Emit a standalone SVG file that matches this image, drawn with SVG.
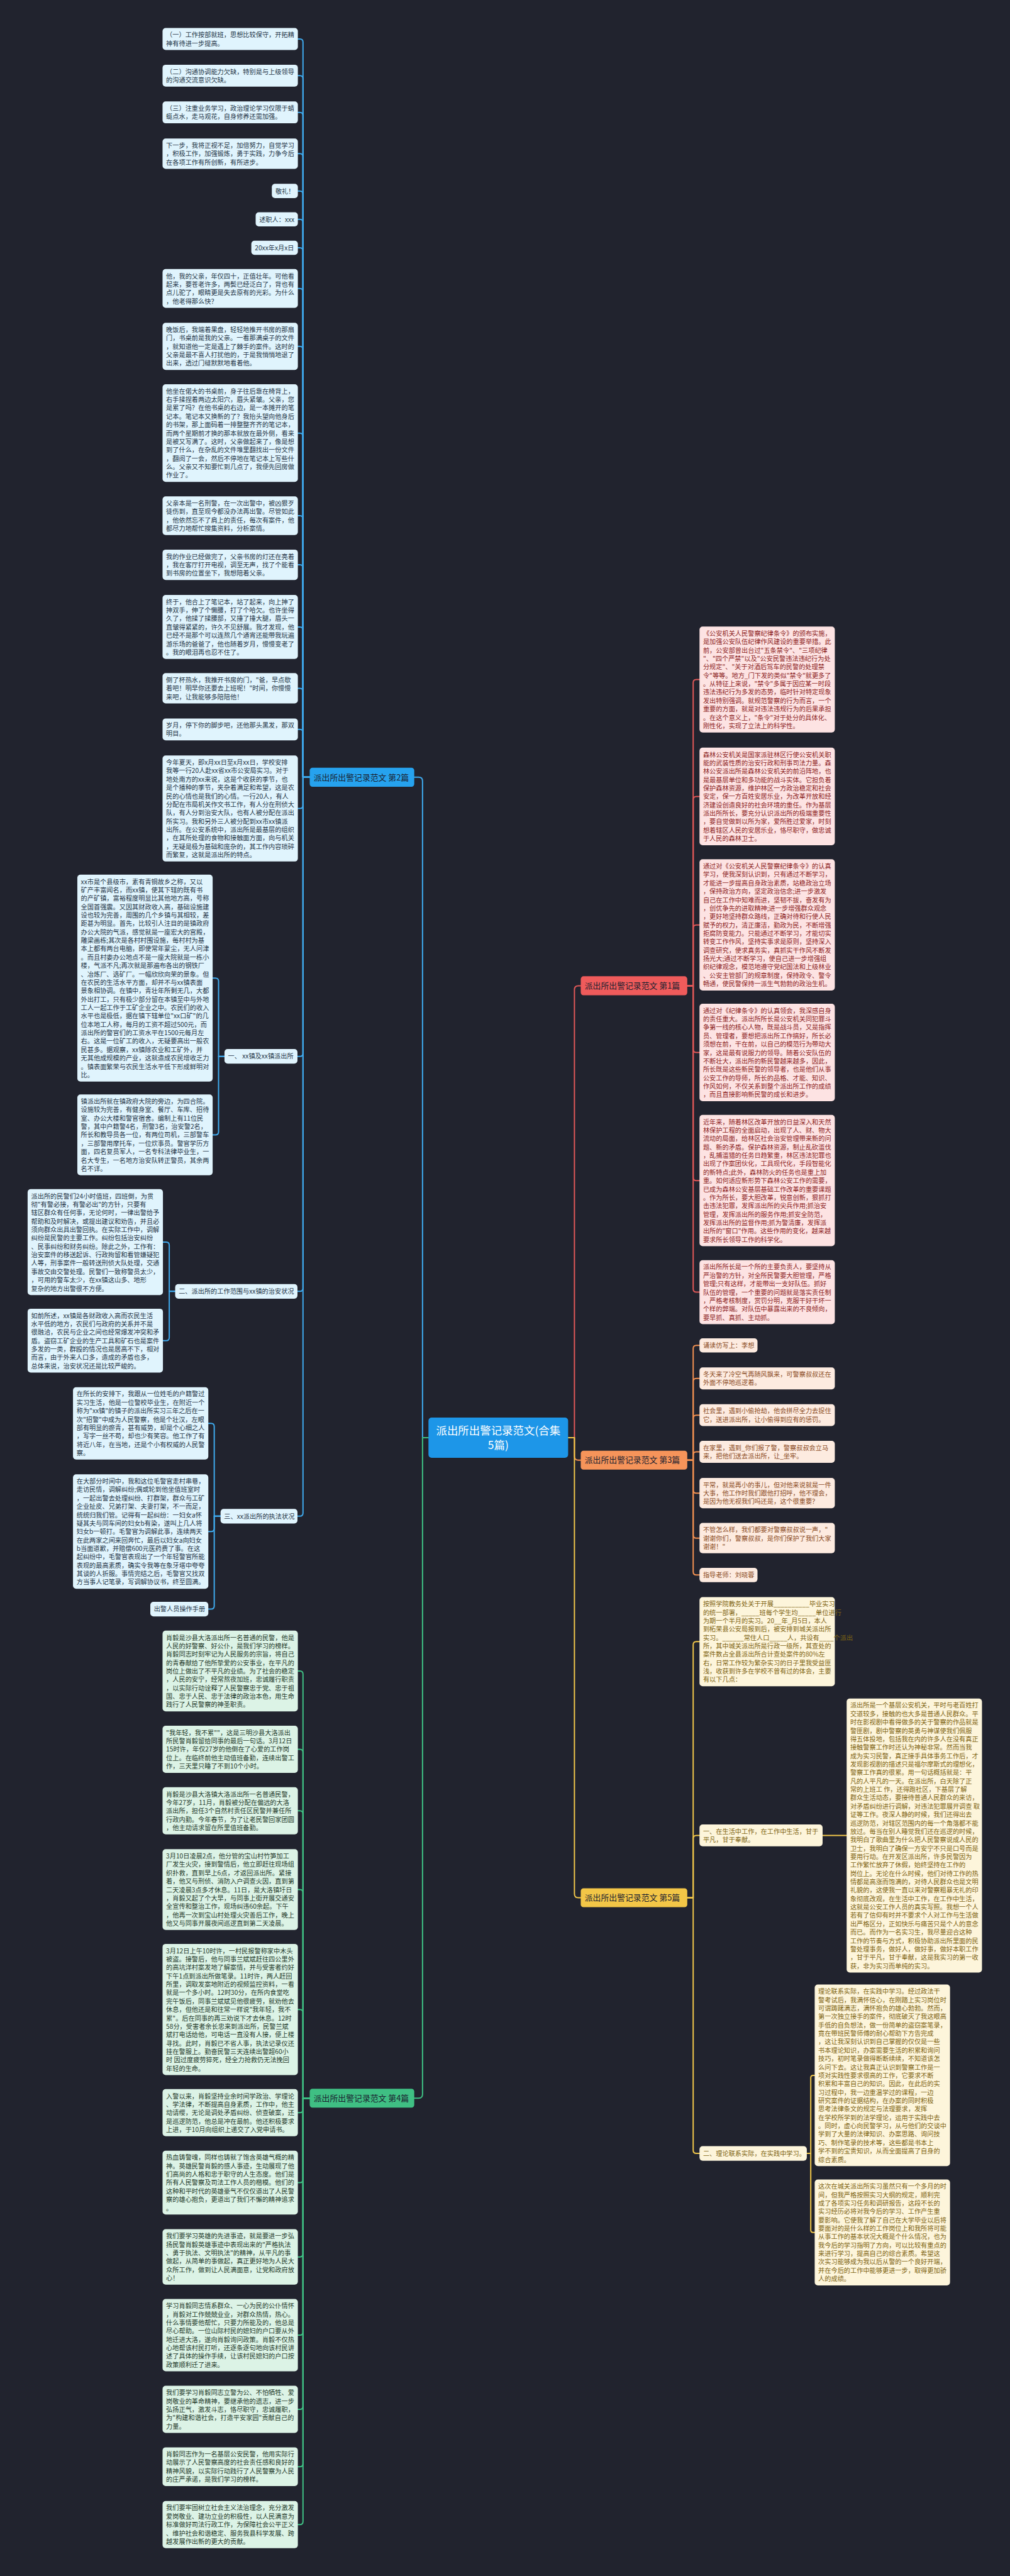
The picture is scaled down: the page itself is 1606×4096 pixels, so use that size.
<svg xmlns="http://www.w3.org/2000/svg" width="1606" height="4096" viewBox="0 0 1606 4096">
<style>
text{font-family:'Noto Sans CJK SC','Noto Sans',sans-serif;}
.t{font-size:16.25px;}
.nb rect{fill:#e0f4fd}.nb text{fill:#1f3447}
.ng rect{fill:#dcf3e6}.ng text{fill:#1f3a2b}
.nr rect{fill:#fde3e3}.nr text{fill:#8e2424}
.no rect{fill:#fdebe0}.no text{fill:#8c4b1f}
.ny rect{fill:#fdf5db}.ny text{fill:#7f6412}
.br text{font-size:20.5px;fill:#1b2230}
#conn path{fill:none;stroke-width:3.2;stroke-linecap:round;stroke-linejoin:round}
.cb{stroke:#3fa9ec}.cg{stroke:#3fbf83}.cr{stroke:#e05858}.co{stroke:#f29152}.cy{stroke:#f0c64a}
</style>
<rect width="1606" height="4096" fill="#21232e"/>
<g transform="scale(0.62734)">
<g id="conn">
<path class="cb" d="M1086 3644 H1071 V1980 Q1071 1970 1061 1970 H1050"/>
<path class="cg" d="M1086 3644 H1071 V5308 Q1071 5318 1061 5318 H1050"/>
<path class="cr" d="M1440 3644 H1456 V2508.5 Q1456 2498.5 1466 2498.5 H1472"/>
<path class="co" d="M1440 3644 H1456 V3691 Q1456 3701 1466 3701 H1472"/>
<path class="cy" d="M1440 3644 H1456 V4800 Q1456 4810 1466 4810 H1472"/>
<path class="cb" d="M785 1970 H768 V106.8 Q768 98.8 760 98.8 H755"/>
<path class="cb" d="M785 1970 H768 V199.8 Q768 191.8 760 191.8 H755"/>
<path class="cb" d="M785 1970 H768 V292.8 Q768 284.8 760 284.8 H755"/>
<path class="cb" d="M785 1970 H768 V397.5 Q768 389.5 760 389.5 H755"/>
<path class="cb" d="M785 1970 H768 V492 Q768 484 760 484 H755"/>
<path class="cb" d="M785 1970 H768 V564 Q768 556 760 556 H755"/>
<path class="cb" d="M785 1970 H768 V636 Q768 628 760 628 H755"/>
<path class="cb" d="M785 1970 H768 V739.1 Q768 731.1 760 731.1 H755"/>
<path class="cb" d="M785 1970 H768 V885.8 Q768 877.8 760 877.8 H755"/>
<path class="cb" d="M785 1970 H768 V1105.7 Q768 1097.7 760 1097.7 H755"/>
<path class="cb" d="M785 1970 H768 V1315.1 Q768 1307.1 760 1307.1 H755"/>
<path class="cb" d="M785 1970 H768 V1439.5 Q768 1431.5 760 1431.5 H755"/>
<path class="cb" d="M785 1970 H768 V1597.1 Q768 1589.1 760 1589.1 H755"/>
<path class="cb" d="M785 1970 H768 V1752.5 Q768 1744.5 760 1744.5 H755"/>
<path class="cb" d="M785 1970 H768 V1856.8 Q768 1848.8 760 1848.8 H755"/>
<path class="cb" d="M785 1970 H768 V2041.3 Q768 2049.3 760 2049.3 H755"/>
<path class="cb" d="M785 1970 H768 V2669.5 Q768 2677.5 760 2677.5 H754"/>
<path class="cb" d="M785 1970 H768 V3265 Q768 3273 760 3273 H754"/>
<path class="cb" d="M785 1970 H768 V3835 Q768 3843 760 3843 H754"/>
<path class="cb" d="M569 2677.5 H554 V2487.1 Q554 2479.1 546 2479.1 H539"/>
<path class="cb" d="M569 2677.5 H554 V2868.4 Q554 2876.4 546 2876.4 H539"/>
<path class="cb" d="M444 3273 H429 V3156.3 Q429 3148.3 421 3148.3 H413"/>
<path class="cb" d="M444 3273 H429 V3390 Q429 3398 421 3398 H413"/>
<path class="cb" d="M559 3843 H543 V3615.7 Q543 3607.7 535 3607.7 H528"/>
<path class="cb" d="M559 3843 H543 V3874 Q543 3882 535 3882 H528"/>
<path class="cb" d="M559 3843 H543 V4070.5 Q543 4078.5 535 4078.5 H528"/>
<path class="cg" d="M785 5318 H768 V4243.4 Q768 4235.4 760 4235.4 H755"/>
<path class="cg" d="M785 5318 H768 V4441.8 Q768 4433.8 760 4433.8 H755"/>
<path class="cg" d="M785 5318 H768 V4597.8 Q768 4589.8 760 4589.8 H755"/>
<path class="cg" d="M785 5318 H768 V4797.4 Q768 4789.4 760 4789.4 H755"/>
<path class="cg" d="M785 5318 H768 V5101.3 Q768 5093.3 760 5093.3 H755"/>
<path class="cg" d="M785 5318 H768 V5346.8 Q768 5354.8 760 5354.8 H755"/>
<path class="cg" d="M785 5318 H768 V5524 Q768 5532 760 5532 H755"/>
<path class="cg" d="M785 5318 H768 V5712.4 Q768 5720.4 760 5720.4 H755"/>
<path class="cg" d="M785 5318 H768 V5910.7 Q768 5918.7 760 5918.7 H755"/>
<path class="cg" d="M785 5318 H768 V6098.8 Q768 6106.8 760 6106.8 H755"/>
<path class="cg" d="M785 5318 H768 V6244.1 Q768 6252.1 760 6252.1 H755"/>
<path class="cg" d="M785 5318 H768 V6390.8 Q768 6398.8 760 6398.8 H755"/>
<path class="cr" d="M1742 2498.5 H1757 V1730.3 Q1757 1722.3 1765 1722.3 H1773"/>
<path class="cr" d="M1742 2498.5 H1757 V2026.7 Q1757 2018.7 1765 2018.7 H1773"/>
<path class="cr" d="M1742 2498.5 H1757 V2352.3 Q1757 2344.3 1765 2344.3 H1773"/>
<path class="cr" d="M1742 2498.5 H1757 V2659.7 Q1757 2667.7 1765 2667.7 H1773"/>
<path class="cr" d="M1742 2498.5 H1757 V2984.3 Q1757 2992.3 1765 2992.3 H1773"/>
<path class="cr" d="M1742 2498.5 H1757 V3267.1 Q1757 3275.1 1765 3275.1 H1773"/>
<path class="co" d="M1742 3701 H1757 V3418 Q1757 3410 1765 3410 H1773"/>
<path class="co" d="M1742 3701 H1757 V3501.8 Q1757 3493.8 1765 3493.8 H1773"/>
<path class="co" d="M1742 3701 H1757 V3594.8 Q1757 3586.8 1765 3586.8 H1773"/>
<path class="co" d="M1742 3701 H1757 V3687.8 Q1757 3679.8 1765 3679.8 H1773"/>
<path class="co" d="M1742 3701 H1757 V3776.5 Q1757 3784.5 1765 3784.5 H1773"/>
<path class="co" d="M1742 3701 H1757 V3890.5 Q1757 3898.5 1765 3898.5 H1773"/>
<path class="co" d="M1742 3701 H1757 V3984 Q1757 3992 1765 3992 H1773"/>
<path class="cy" d="M1742 4810 H1757 V4169 Q1757 4161 1765 4161 H1773"/>
<path class="cy" d="M1742 4810 H1757 V4660 Q1757 4652 1765 4652 H1773"/>
<path class="cy" d="M1742 4810 H1757 V5450 Q1757 5458 1765 5458 H1773"/>
<path class="cy" d="M2085 4652 H2146"/>
<path class="cy" d="M2045 5458 H2055 V5266.2 Q2055 5260.2 2061 5260.2 H2065"/>
<path class="cy" d="M2045 5458 H2055 V5652.3 Q2055 5658.3 2061 5658.3 H2065"/>
</g>

<g id="root"><rect x="1086" y="3593" width="354" height="102" rx="8" fill="#1d96e8"/>
<text x="1263" y="3636.5" font-size="27.8" fill="#ffffff" text-anchor="middle"><tspan x="1263">派出所出警记录范文(合集</tspan><tspan x="1263" dy="36.5">5篇)</tspan></text></g>

<g id="branch2" class="br"><rect x="785" y="1946" width="265" height="48" rx="7" fill="#26a2ee"/><text x="795" y="1977.5">派出所出警记录范文 第2篇</text></g>
<g id="branch4" class="br"><rect x="785" y="5294" width="265" height="48" rx="7" fill="#3fbf83"/><text x="795" y="5325.5">派出所出警记录范文 第4篇</text></g>
<g id="branch1" class="br"><rect x="1472" y="2474.5" width="270" height="48" rx="7" fill="#ef5b5b"/><text x="1482" y="2506">派出所出警记录范文 第1篇</text></g>
<g id="branch3" class="br"><rect x="1472" y="3677" width="270" height="48" rx="7" fill="#f6945a"/><text x="1482" y="3708.5">派出所出警记录范文 第3篇</text></g>
<g id="branch5" class="br"><rect x="1472" y="4786" width="270" height="48" rx="7" fill="#f3c647"/><text x="1482" y="4817.5">派出所出警记录范文 第5篇</text></g>

<g id="b1" class="nb"><rect x="412" y="71" width="343" height="55.6" rx="8"/><text class="t" x="421" y="94.5"><tspan x="421">（一）工作按部就班，思想比较保守，开拓精</tspan><tspan x="421" dy="21.3">神有待进一步提高。</tspan></text></g>
<g id="b2" class="nb"><rect x="412" y="164" width="343" height="55.6" rx="8"/><text class="t" x="421" y="187.5"><tspan x="421">（二）沟通协调能力欠缺，特别是与上级领导</tspan><tspan x="421" dy="21.3">的沟通交流意识欠缺。</tspan></text></g>
<g id="b3" class="nb"><rect x="412" y="257" width="343" height="55.6" rx="8"/><text class="t" x="421" y="280.5"><tspan x="421">（三）注重业务学习，政治理论学习仅限于蜻</tspan><tspan x="421" dy="21.3">蜓点水，走马观花，自身修养还需加强。</tspan></text></g>
<g id="b4" class="nb"><rect x="412" y="351" width="343" height="76.9" rx="8"/><text class="t" x="421" y="374.5"><tspan x="421">下一步，我将正视不足，加倍努力，自觉学习</tspan><tspan x="421" dy="21.3">，积极工作，加强锻炼，勇于实践，力争今后</tspan><tspan x="421" dy="21.3">在各项工作有所创新，有所进步。</tspan></text></g>
<g id="b5" class="nb"><rect x="689" y="466" width="66" height="36" rx="8"/><text class="t" x="698" y="490.5">敬礼！</text></g>
<g id="b6" class="nb"><rect x="648" y="538" width="107" height="36" rx="8"/><text class="t" x="657" y="562.5">述职人：xxx</text></g>
<g id="b7" class="nb"><rect x="637" y="610" width="118" height="36" rx="8"/><text class="t" x="646" y="634.5">20xx年x月x日</text></g>
<g id="b8" class="nb"><rect x="412" y="682" width="343" height="98.2" rx="8"/><text class="t" x="421" y="705.5"><tspan x="421">他，我的父亲，年仅四十，正值壮年。可他看</tspan><tspan x="421" dy="21.3">起来，要苍老许多，两鬓已经泛白了，背也有</tspan><tspan x="421" dy="21.3">点儿驼了，眼睛更是失去原有的光彩。为什么</tspan><tspan x="421" dy="21.3">，他老得那么快？</tspan></text></g>
<g id="b9" class="nb"><rect x="412" y="818" width="343" height="119.5" rx="8"/><text class="t" x="421" y="841.5"><tspan x="421">晚饭后，我端着果盘，轻轻地推开书房的那扇</tspan><tspan x="421" dy="21.3">门，书桌前是我的父亲。一看那满桌子的文件</tspan><tspan x="421" dy="21.3">，就知道他一定是遇上了棘手的案件。这时的</tspan><tspan x="421" dy="21.3">父亲是最不喜人打扰他的，于是我悄悄地退了</tspan><tspan x="421" dy="21.3">出来，透过门缝默默地看着他。</tspan></text></g>
<g id="b10" class="nb"><rect x="412" y="974" width="343" height="247.3" rx="8"/><text class="t" x="421" y="997.5"><tspan x="421">他坐在偌大的书桌前，身子往后靠在椅背上，</tspan><tspan x="421" dy="21.3">右手揉捏着两边太阳穴，眉头紧皱。父亲，您</tspan><tspan x="421" dy="21.3">是累了吗？在他书桌的右边，是一本摊开的笔</tspan><tspan x="421" dy="21.3">记本。笔记本又换新的了？我抬头望向他身后</tspan><tspan x="421" dy="21.3">的书架，那上面码着一排整整齐齐的笔记本，</tspan><tspan x="421" dy="21.3">而两个星期前才换的那本就放在最外侧，看来</tspan><tspan x="421" dy="21.3">是被又写满了。这时，父亲做起来了，像是想</tspan><tspan x="421" dy="21.3">到了什么，在杂乱的文件堆里翻找出一份文件</tspan><tspan x="421" dy="21.3">，翻阅了一会，然后不停地在笔记本上写些什</tspan><tspan x="421" dy="21.3">么。父亲又不知要忙到几点了，我便先回房做</tspan><tspan x="421" dy="21.3">作业了。</tspan></text></g>
<g id="b11" class="nb"><rect x="412" y="1258" width="343" height="98.2" rx="8"/><text class="t" x="421" y="1281.5"><tspan x="421">父亲本是一名刑警，在一次出警中，被凶狠歹</tspan><tspan x="421" dy="21.3">徒伤到，直至现今都没办法再出警。尽管如此</tspan><tspan x="421" dy="21.3">，他依然忘不了肩上的责任，每次有案件，他</tspan><tspan x="421" dy="21.3">都尽力地帮忙搜集资料，分析案情。</tspan></text></g>
<g id="b12" class="nb"><rect x="412" y="1393" width="343" height="76.9" rx="8"/><text class="t" x="421" y="1416.5"><tspan x="421">我的作业已经做完了，父亲书房的灯还在亮着</tspan><tspan x="421" dy="21.3">，我在客厅打开电视，调至无声，找了个能看</tspan><tspan x="421" dy="21.3">到书房的位置坐下，我想陪着父亲。</tspan></text></g>
<g id="b13" class="nb"><rect x="412" y="1508" width="343" height="162.1" rx="8"/><text class="t" x="421" y="1531.5"><tspan x="421">终于，他合上了笔记本，站了起来，向上抻了</tspan><tspan x="421" dy="21.3">抻双手，伸了个懒腰，打了个哈欠。也许坐得</tspan><tspan x="421" dy="21.3">久了，他揉了揉腰部，又捶了捶大腿，眉头一</tspan><tspan x="421" dy="21.3">直皱得紧紧的，许久不见舒展。我才发现，他</tspan><tspan x="421" dy="21.3">已经不是那个可以连熬几个通宵还能带我玩遍</tspan><tspan x="421" dy="21.3">游乐场的爸爸了，他也随着岁月，慢慢变老了</tspan><tspan x="421" dy="21.3">。我的眼泪再也忍不住了。</tspan></text></g>
<g id="b14" class="nb"><rect x="412" y="1706" width="343" height="76.9" rx="8"/><text class="t" x="421" y="1729.5"><tspan x="421">倒了杯热水，我推开书房的门，"爸，早点歇</tspan><tspan x="421" dy="21.3">着吧！明早你还要去上班呢！"时间，你慢慢</tspan><tspan x="421" dy="21.3">来吧，让我能够多陪陪他！</tspan></text></g>
<g id="b15" class="nb"><rect x="412" y="1821" width="343" height="55.6" rx="8"/><text class="t" x="421" y="1844.5"><tspan x="421">岁月，停下你的脚步吧，还他那头黑发，那双</tspan><tspan x="421" dy="21.3">明目。</tspan></text></g>
<g id="b16" class="nb"><rect x="412" y="1915" width="343" height="268.6" rx="8"/><text class="t" x="421" y="1938.5"><tspan x="421">今年夏天，即x月xx日至x月xx日，学校安排</tspan><tspan x="421" dy="21.3">我等一行20人赴xx省xx市公安局实习。对于</tspan><tspan x="421" dy="21.3">地处南方的xx来说，这是个收获的季节，也</tspan><tspan x="421" dy="21.3">是个播种的季节，夹杂着满足和希望，这是农</tspan><tspan x="421" dy="21.3">民的心情也是我们的心情。一行20人，有人</tspan><tspan x="421" dy="21.3">分配在市局机关作文书工作，有人分在刑侦大</tspan><tspan x="421" dy="21.3">队，有人分到治安大队，也有人被分配在派出</tspan><tspan x="421" dy="21.3">所实习。我和另外三人被分配到xx市xx镇派</tspan><tspan x="421" dy="21.3">出所。在公安系统中，派出所是最基层的组织</tspan><tspan x="421" dy="21.3">，在其所处理的食物和接触面方面，向与机关</tspan><tspan x="421" dy="21.3">，无疑是极为基础和庞杂的，其工作内容琐碎</tspan><tspan x="421" dy="21.3">而繁复，这就是派出所的特点。</tspan></text></g>

<g id="s1" class="nb"><rect x="569" y="2659" width="185" height="37" rx="8"/><text class="t" x="578" y="2683.5">一、 xx镇及xx镇派出所</text></g>
<g id="s1a" class="nb"><rect x="196" y="2217" width="343" height="524.2" rx="8"/><text class="t" x="205" y="2240.5"><tspan x="205">xx市是个县级市，素有青铜故乡之称，又以</tspan><tspan x="205" dy="21.3">矿产丰富闻名，而xx镇，使其下辖的既有书</tspan><tspan x="205" dy="21.3">的产矿镇，富裕程度明显比其他地方高，号称</tspan><tspan x="205" dy="21.3">全国首强震。又因其财政收入高，基础设施建</tspan><tspan x="205" dy="21.3">设也较为完善，周围的几个乡镇与其相较，差</tspan><tspan x="205" dy="21.3">距甚为明显。首先，比较引人注目的是镇政府</tspan><tspan x="205" dy="21.3">办公大院的气派，感觉就是一座宏大的宫殿，</tspan><tspan x="205" dy="21.3">雕梁画栋;其次是各村村围设施，每村村为基</tspan><tspan x="205" dy="21.3">本上都有两台电脑，即使常年蒙尘，无人问津</tspan><tspan x="205" dy="21.3">。而且村委办公地点不是一座大院就是一栋小</tspan><tspan x="205" dy="21.3">楼，气派不凡;再次就是那遍布各出的钢铁厂</tspan><tspan x="205" dy="21.3">、冶炼厂、选矿厂。一幅欣欣向荣的景象。但</tspan><tspan x="205" dy="21.3">在农民的生活水平方面，却并不与xx镇表面</tspan><tspan x="205" dy="21.3">景象相协调。在镇中，青壮年所剩无几，大都</tspan><tspan x="205" dy="21.3">外出打工，只有极少部分留在本镇至中与外地</tspan><tspan x="205" dy="21.3">工人一起工作于工矿企业之中。农民们的收入</tspan><tspan x="205" dy="21.3">水平也是极低，据在镇下辖单位"xx口矿"的几</tspan><tspan x="205" dy="21.3">位本地工人称，每月的工资不超过500元，而</tspan><tspan x="205" dy="21.3">派出所的警官们的工资水平在1500元每月左</tspan><tspan x="205" dy="21.3">右。这是一位矿工的收入，无疑要高出一般农</tspan><tspan x="205" dy="21.3">民甚多。据观察，xx镇除农业和工矿外，并</tspan><tspan x="205" dy="21.3">无其他成规模的产业，这就造成农民增收乏力</tspan><tspan x="205" dy="21.3">。镇表面繁荣与农民生活水平低下形成鲜明对</tspan><tspan x="205" dy="21.3">比。</tspan></text></g>
<g id="s1b" class="nb"><rect x="196" y="2774" width="343" height="204.7" rx="8"/><text class="t" x="205" y="2797.5"><tspan x="205">镇派出所就在镇政府大院的旁边，为四合院。</tspan><tspan x="205" dy="21.3">设施较为完善，有健身室、餐厅、车库、招待</tspan><tspan x="205" dy="21.3">室、办公大楼和警官宿舍。编制上有11位民</tspan><tspan x="205" dy="21.3">警，其中户籍警4名，刑警3名，治安警2名，</tspan><tspan x="205" dy="21.3">所长和教导员各一位，有两位司机，三部警车</tspan><tspan x="205" dy="21.3">，三部警用摩托车，一位炊事员。警官学历方</tspan><tspan x="205" dy="21.3">面，四名复员军人，一名专科法律毕业生，一</tspan><tspan x="205" dy="21.3">名大专生，一名地方治安队转正警员，其余两</tspan><tspan x="205" dy="21.3">名不详。</tspan></text></g>

<g id="s2" class="nb"><rect x="444" y="3254.5" width="310" height="37" rx="8"/><text class="t" x="453" y="3279">二、派出所的工作范围与xx镇的治安状况</text></g>
<g id="s2a" class="nb"><rect x="70" y="3014" width="343" height="268.6" rx="8"/><text class="t" x="79" y="3037.5"><tspan x="79">派出所的民警们24小时值班，四班倒，为贯</tspan><tspan x="79" dy="21.3">彻"有警必接，有警必出"的方针，只要有</tspan><tspan x="79" dy="21.3">辖区群众有任何事，无论何时，一律出警给予</tspan><tspan x="79" dy="21.3">帮助和及时解决，或提出建议和劝告，并且必</tspan><tspan x="79" dy="21.3">须向群众出具出警回执。在实际工作中，调解</tspan><tspan x="79" dy="21.3">纠纷是民警的主要工作。纠纷包括治安纠纷</tspan><tspan x="79" dy="21.3">、民事纠纷和财务纠纷。除此之外，工作有：</tspan><tspan x="79" dy="21.3">治安案件的移送起诉、行政拘留和看管嫌疑犯</tspan><tspan x="79" dy="21.3">人等，刑事案件一般转送刑侦大队处理，交通</tspan><tspan x="79" dy="21.3">事故交由交警处理。民警们一致称警员太少，</tspan><tspan x="79" dy="21.3">，可用的警车太少，在xx镇这山多、地形</tspan><tspan x="79" dy="21.3">复杂的地方出警很不方便。</tspan></text></g>
<g id="s2b" class="nb"><rect x="70" y="3317" width="343" height="162.1" rx="8"/><text class="t" x="79" y="3340.5"><tspan x="79">如前所述，xx镇是各财政收入高而农民生活</tspan><tspan x="79" dy="21.3">水平低的地方，农民们与政府的关系并不是</tspan><tspan x="79" dy="21.3">很融洽，农民与企业之间也经常爆发冲突和矛</tspan><tspan x="79" dy="21.3">盾。盗窃工矿企业的生产工具和矿石也是案件</tspan><tspan x="79" dy="21.3">多发的一类，群殴的情况也是居高不下，相对</tspan><tspan x="79" dy="21.3">而言，由于外来人口多，造成的矛盾也多，</tspan><tspan x="79" dy="21.3">总体来说，治安状况还是比较严峻的。</tspan></text></g>

<g id="s3" class="nb"><rect x="559" y="3824.5" width="195" height="37" rx="8"/><text class="t" x="568" y="3849">三、xx派出所的执法状况</text></g>
<g id="s3a" class="nb"><rect x="185" y="3516" width="343" height="183.4" rx="8"/><text class="t" x="194" y="3539.5"><tspan x="194">在所长的安排下，我跟从一位姓毛的户籍警过</tspan><tspan x="194" dy="21.3">实习生活，他是一位警校毕业生，在附近一个</tspan><tspan x="194" dy="21.3">称为"xx镇"的镇子的派出所实习三年之后在一</tspan><tspan x="194" dy="21.3">次"招警"中成为人民警察，他是个壮汉，左眼</tspan><tspan x="194" dy="21.3">部有明显的瘀青，甚有威势，却是个心细之人</tspan><tspan x="194" dy="21.3">，写字一丝不苟，却也少有笑容。他工作了有</tspan><tspan x="194" dy="21.3">将近八年，在当地，还是个小有权威的人民警</tspan><tspan x="194" dy="21.3">察。</tspan></text></g>
<g id="s3b" class="nb"><rect x="185" y="3737" width="343" height="289.9" rx="8"/><text class="t" x="194" y="3760.5"><tspan x="194">在大部分时间中，我和这位毛警官走村串巷，</tspan><tspan x="194" dy="21.3">走访民情，调解纠纷;偶或轮到他坐值班室时</tspan><tspan x="194" dy="21.3">，一起出警去处理纠纷、打群架，群众与工矿</tspan><tspan x="194" dy="21.3">企业扯皮、兄弟打架、夫妻打架，不一而足，</tspan><tspan x="194" dy="21.3">统统归我们管。记得有一起纠纷：一妇女a怀</tspan><tspan x="194" dy="21.3">疑其夫与同车间的妇女b有染，遂叫上几人将</tspan><tspan x="194" dy="21.3">妇女b一顿打。毛警官为调解此事，连续两天</tspan><tspan x="194" dy="21.3">在此两家之间来回奔忙，最后以妇女a向妇女</tspan><tspan x="194" dy="21.3">b当面道歉，并赔偿600元医药费了事。在这</tspan><tspan x="194" dy="21.3">起纠纷中，毛警官表现出了一个年轻警官所能</tspan><tspan x="194" dy="21.3">表现的最高素质，确实令我等在象牙塔中夸夸</tspan><tspan x="194" dy="21.3">其谈的人折服。事情完结之后，毛警官又找双</tspan><tspan x="194" dy="21.3">方当事人记笔录，写调解协议书，终至圆满。</tspan></text></g>
<g id="s3c" class="nb"><rect x="381" y="4060" width="147" height="37" rx="8"/><text class="t" x="390" y="4084.5">出警人员操作手册</text></g>

<g id="g1" class="ng"><rect x="412" y="4133" width="343" height="204.7" rx="8"/><text class="t" x="421" y="4156.5"><tspan x="421">肖毅是沙县大洛派出所一名普通的民警，他是</tspan><tspan x="421" dy="21.3">人民的好警察、好公仆，是我们学习的榜样。</tspan><tspan x="421" dy="21.3">肖毅同志时刻牢记为人民服务的宗旨，将自己</tspan><tspan x="421" dy="21.3">的青春献给了他所挚爱的公安事业，在平凡的</tspan><tspan x="421" dy="21.3">岗位上做出了不平凡的业绩。为了社会的稳定</tspan><tspan x="421" dy="21.3">，人民的安宁，经常熬夜加班，忠诚履行职责</tspan><tspan x="421" dy="21.3">，以实际行动诠释了人民警察忠于党、忠于祖</tspan><tspan x="421" dy="21.3">国、忠于人民、忠于法律的政治本色，用生命</tspan><tspan x="421" dy="21.3">践行了人民警察的神圣职责。</tspan></text></g>
<g id="g2" class="ng"><rect x="412" y="4374" width="343" height="119.5" rx="8"/><text class="t" x="421" y="4397.5"><tspan x="421">"我年轻，我不累""，这是三明沙县大洛派出</tspan><tspan x="421" dy="21.3">所民警肖毅留给同事的最后一句话。3月12日</tspan><tspan x="421" dy="21.3">15时许，年仅27岁的他倒在了心爱的工作岗</tspan><tspan x="421" dy="21.3">位上。在临终前他主动值班备勤，连续出警工</tspan><tspan x="421" dy="21.3">作，三天里只睡了不到10个小时。</tspan></text></g>
<g id="g3" class="ng"><rect x="412" y="4530" width="343" height="119.5" rx="8"/><text class="t" x="421" y="4553.5"><tspan x="421">肖毅是沙县大洛镇大洛派出所一名普通民警，</tspan><tspan x="421" dy="21.3">今年27岁，11月，肖毅被分配在偏远的大洛</tspan><tspan x="421" dy="21.3">派出所，担任3个自然村责任区民警并兼任所</tspan><tspan x="421" dy="21.3">行政内勤。今年春节，为了让老民警回家团圆</tspan><tspan x="421" dy="21.3">，他主动请求留在所里值班备勤。</tspan></text></g>
<g id="g4" class="ng"><rect x="412" y="4687" width="343" height="204.7" rx="8"/><text class="t" x="421" y="4710.5"><tspan x="421">3月10日凌晨2点，他分管的宝山村竹笋加工</tspan><tspan x="421" dy="21.3">厂发生火灾，接到警情后，他立即赶往现场组</tspan><tspan x="421" dy="21.3">织扑救，直到早上6点，才返回派出所。紧接</tspan><tspan x="421" dy="21.3">着，他又与刑侦、消防入户调查火因，直到第</tspan><tspan x="421" dy="21.3">二天凌晨3点多才休息。11日，是大洛镇圩日</tspan><tspan x="421" dy="21.3">，肖毅又起了个大早，与同事上街开展交通安</tspan><tspan x="421" dy="21.3">全宣传和整治工作，现场纠违60余起。下午</tspan><tspan x="421" dy="21.3">，他再一次到宝山村处理火灾善后工作，晚上</tspan><tspan x="421" dy="21.3">他又与同事开展夜间巡逻直到第二天凌晨。</tspan></text></g>
<g id="g5" class="ng"><rect x="412" y="4927" width="343" height="332.5" rx="8"/><text class="t" x="421" y="4950.5"><tspan x="421">3月12日上午10时许，一村民报警称家中木头</tspan><tspan x="421" dy="21.3">被盗。接警后，他与同事兰斌斌赶往四公里外</tspan><tspan x="421" dy="21.3">的高坑洋村案发地了解案情，并与受害者约好</tspan><tspan x="421" dy="21.3">下午1点到派出所做笔录。11时许，两人赶回</tspan><tspan x="421" dy="21.3">所里，调取发案地附近的视频监控资料，一看</tspan><tspan x="421" dy="21.3">就是一个多小时。12时30分，在所内食堂吃</tspan><tspan x="421" dy="21.3">完午饭后，同事兰斌斌见他很疲劳，就劝他去</tspan><tspan x="421" dy="21.3">休息，但他还是和往常一样说"我年轻，我不</tspan><tspan x="421" dy="21.3">累"。后在同事的再三劝说下才去休息。12时</tspan><tspan x="421" dy="21.3">58分，受害者余长忠来到派出所，民警兰斌</tspan><tspan x="421" dy="21.3">斌打电话给他，可电话一直没有人接，便上楼</tspan><tspan x="421" dy="21.3">寻找。此时，肖毅已不省人事，执法记录仪还</tspan><tspan x="421" dy="21.3">挂在警服上。勤奋民警三天连续出警超60小</tspan><tspan x="421" dy="21.3">时 因过度疲劳猝死，经全力抢救仍无法挽回</tspan><tspan x="421" dy="21.3">年轻的生命。</tspan></text></g>
<g id="g6" class="ng"><rect x="412" y="5295" width="343" height="119.5" rx="8"/><text class="t" x="421" y="5318.5"><tspan x="421">入警以来，肖毅坚持业余时间学政治、学理论</tspan><tspan x="421" dy="21.3">、学法律，不断提高自身素质，工作中，他主</tspan><tspan x="421" dy="21.3">动请缨，无论是调处矛盾纠纷、侦查破案，还</tspan><tspan x="421" dy="21.3">是巡逻防范，他总是冲在最前。他还积极要求</tspan><tspan x="421" dy="21.3">上进，于10月向组织上递交了入党申请书。</tspan></text></g>
<g id="g7" class="ng"><rect x="412" y="5451" width="343" height="162.1" rx="8"/><text class="t" x="421" y="5474.5"><tspan x="421">热血铸警魂，同样也铸就了饱含英雄气概的精</tspan><tspan x="421" dy="21.3">神。英雄民警肖毅的感人事迹，生动展现了他</tspan><tspan x="421" dy="21.3">们高尚的人格和忠于职守的人生态度。他们是</tspan><tspan x="421" dy="21.3">所有人民警察及司法工作人员的楷模。他们的</tspan><tspan x="421" dy="21.3">这种和平时代的英雄豪气不仅仅道出了人民警</tspan><tspan x="421" dy="21.3">察的雄心抱负，更道出了我们不懈的精神追求</tspan><tspan x="421" dy="21.3">。</tspan></text></g>
<g id="g8" class="ng"><rect x="412" y="5650" width="343" height="140.8" rx="8"/><text class="t" x="421" y="5673.5"><tspan x="421">我们要学习英雄的先进事迹，就是要进一步弘</tspan><tspan x="421" dy="21.3">扬民警肖毅英雄事迹中表现出来的"严格执法</tspan><tspan x="421" dy="21.3">、勇于执法、文明执法"的精神，从平凡的事</tspan><tspan x="421" dy="21.3">做起，从简单的事做起，真正更好地为人民大</tspan><tspan x="421" dy="21.3">众所工作，做到让人民满面意，让党和政府放</tspan><tspan x="421" dy="21.3">心！</tspan></text></g>
<g id="g9" class="ng"><rect x="412" y="5827" width="343" height="183.4" rx="8"/><text class="t" x="421" y="5850.5"><tspan x="421">学习肖毅同志情系群众、一心为民的公仆情怀</tspan><tspan x="421" dy="21.3">，肖毅对工作兢兢业业，对群众热情，热心。</tspan><tspan x="421" dy="21.3">什么事情要他帮忙，只要力所能及的，他总是</tspan><tspan x="421" dy="21.3">尽心帮助。一位山际村民的媳妇的户口要从外</tspan><tspan x="421" dy="21.3">地迁进大洛，遂向肖毅询问政策。肖毅不仅热</tspan><tspan x="421" dy="21.3">心地帮该村民打听，还逐条逐句地向该村民讲</tspan><tspan x="421" dy="21.3">述了具体的操作手续，让该村民媳妇的户口按</tspan><tspan x="421" dy="21.3">政策顺利迁了进来。</tspan></text></g>
<g id="g10" class="ng"><rect x="412" y="6047" width="343" height="119.5" rx="8"/><text class="t" x="421" y="6070.5"><tspan x="421">我们要学习肖毅同志立警为公、不怕牺牲、爱</tspan><tspan x="421" dy="21.3">岗敬业的革命精神，要继承他的遗志，进一步</tspan><tspan x="421" dy="21.3">弘扬正气，激发斗志，恪尽职守，忠诚履职，</tspan><tspan x="421" dy="21.3">为"构建和谐社会，打造平安家园"贡献自己的</tspan><tspan x="421" dy="21.3">力量。</tspan></text></g>
<g id="g11" class="ng"><rect x="412" y="6203" width="343" height="98.2" rx="8"/><text class="t" x="421" y="6226.5"><tspan x="421">肖毅同志作为一名基层公安民警，他用实际行</tspan><tspan x="421" dy="21.3">动展示了人民警察高度的社会责任感和良好的</tspan><tspan x="421" dy="21.3">精神风貌，以实际行动践行了人民警察为人民</tspan><tspan x="421" dy="21.3">的庄严承诺，是我们学习的榜样。</tspan></text></g>
<g id="g12" class="ng"><rect x="412" y="6339" width="343" height="119.5" rx="8"/><text class="t" x="421" y="6362.5"><tspan x="421">我们要牢固树立社会主义法治理念，充分激发</tspan><tspan x="421" dy="21.3">爱岗敬业、建功立业的积极性，以人民满意为</tspan><tspan x="421" dy="21.3">标准做好司法行政工作，为保障社会公平正义</tspan><tspan x="421" dy="21.3">、维护社会和谐稳定、服务我县科学发展、跨</tspan><tspan x="421" dy="21.3">越发展作出新的更大的贡献。</tspan></text></g>

<g id="r1" class="nr"><rect x="1773" y="1588" width="343" height="268.6" rx="8"/><text class="t" x="1782" y="1611.5"><tspan x="1782">《公安机关人民警察纪律条令》的颁布实施，</tspan><tspan x="1782" dy="21.3">是加强公安队伍纪律作风建设的重要举措。此</tspan><tspan x="1782" dy="21.3">前，公安部曾出台过"五条禁令"、"三项纪律</tspan><tspan x="1782" dy="21.3">"、"四个严禁"以及"公安民警违法违纪行为处</tspan><tspan x="1782" dy="21.3">分规定"、"关于对酒后驾车的民警的处理禁</tspan><tspan x="1782" dy="21.3">令"等等。地方_门下发的类似"禁令"就更多了</tspan><tspan x="1782" dy="21.3">。从特征上来说，"禁令"多属于因应某一时段</tspan><tspan x="1782" dy="21.3">违法违纪行为多发的态势，临时针对特定现象</tspan><tspan x="1782" dy="21.3">发出特别强调。就规范警察的行为而言，一个</tspan><tspan x="1782" dy="21.3">重要的方面，就是对违法违规行为的后果承担</tspan><tspan x="1782" dy="21.3">。在这个意义上，"条令"对于处分的具体化、</tspan><tspan x="1782" dy="21.3">刚性化，实现了立法上的科学性。</tspan></text></g>
<g id="r2" class="nr"><rect x="1773" y="1895" width="343" height="247.3" rx="8"/><text class="t" x="1782" y="1918.5"><tspan x="1782">森林公安机关是国家派驻林区行使公安机关职</tspan><tspan x="1782" dy="21.3">能的武装性质的治安行政和刑事司法力量。森</tspan><tspan x="1782" dy="21.3">林公安派出所是森林公安机关的前沿阵地，也</tspan><tspan x="1782" dy="21.3">是最基层单位和多功能的战斗实体。它担负着</tspan><tspan x="1782" dy="21.3">保护森林资源，维护林区一方政治稳定和社会</tspan><tspan x="1782" dy="21.3">安定，保一方百姓安居乐业，为改革开放和经</tspan><tspan x="1782" dy="21.3">济建设创造良好的社会环境的重任。作为基层</tspan><tspan x="1782" dy="21.3">派出所所长，要充分认识派出所的极端重要性</tspan><tspan x="1782" dy="21.3">，要自觉做到以所为家，爱所胜过爱家，时刻</tspan><tspan x="1782" dy="21.3">想着辖区人民的安居乐业，恪尽职守，做忠诚</tspan><tspan x="1782" dy="21.3">于人民的森林卫士。</tspan></text></g>
<g id="r3" class="nr"><rect x="1773" y="2178" width="343" height="332.5" rx="8"/><text class="t" x="1782" y="2201.5"><tspan x="1782">通过对《公安机关人民警察纪律条令》的认真</tspan><tspan x="1782" dy="21.3">学习，使我深刻认识到，只有通过不断学习，</tspan><tspan x="1782" dy="21.3">才能进一步提高自身政治素质，站稳政治立场</tspan><tspan x="1782" dy="21.3">，保持政治方向，坚定政治信念;进一步激发</tspan><tspan x="1782" dy="21.3">自己在工作中知难而进，坚韧不拔，奋发有为</tspan><tspan x="1782" dy="21.3">，创优争先的进取精神;进一步增强群众观念</tspan><tspan x="1782" dy="21.3">，更好地坚持群众路线，正确对待和行使人民</tspan><tspan x="1782" dy="21.3">赋予的权力，清正廉洁，勤政为民，不断增强</tspan><tspan x="1782" dy="21.3">拒腐防变能力。只能通过不断学习，才能切实</tspan><tspan x="1782" dy="21.3">转变工作作风，坚持实事求是原则，坚持深入</tspan><tspan x="1782" dy="21.3">调查研究，使求真务实，真抓实干作风不断发</tspan><tspan x="1782" dy="21.3">扬光大;通过不断学习，使自己进一步增强组</tspan><tspan x="1782" dy="21.3">织纪律观念，模范地遵守党纪国法和上级林业</tspan><tspan x="1782" dy="21.3">、公安主管部门的规章制度，保持政令、警令</tspan><tspan x="1782" dy="21.3">畅通，使民警保持一派生气勃勃的政治生机。</tspan></text></g>
<g id="r4" class="nr"><rect x="1773" y="2544" width="343" height="247.3" rx="8"/><text class="t" x="1782" y="2567.5"><tspan x="1782">通过对《纪律条令》的认真领会，我深感自身</tspan><tspan x="1782" dy="21.3">的责任重大。派出所所长是公安机关同犯罪斗</tspan><tspan x="1782" dy="21.3">争第一线的核心人物，既是战斗员，又是指挥</tspan><tspan x="1782" dy="21.3">员、管理者，要想把派出所工作搞好，所长必</tspan><tspan x="1782" dy="21.3">须想在前，干在前，以自己的模范行为带动大</tspan><tspan x="1782" dy="21.3">家，这是最有说服力的领导。随着公安队伍的</tspan><tspan x="1782" dy="21.3">不断壮大，派出所的新民警越来越多，因此，</tspan><tspan x="1782" dy="21.3">所长既是这些新民警的领导者，也是他们从事</tspan><tspan x="1782" dy="21.3">公安工作的导师，所长的品格、才能、知识、</tspan><tspan x="1782" dy="21.3">作风如何，不仅关系到整个派出所工作的成绩</tspan><tspan x="1782" dy="21.3">，而且直接影响新民警的成长和进步。</tspan></text></g>
<g id="r5" class="nr"><rect x="1773" y="2826" width="343" height="332.5" rx="8"/><text class="t" x="1782" y="2849.5"><tspan x="1782">近年来，随着林区改革开放的日益深入和天然</tspan><tspan x="1782" dy="21.3">林保护工程的全面启动，出现了人、财、物大</tspan><tspan x="1782" dy="21.3">流动的局面，给林区社会治安管理带来新的问</tspan><tspan x="1782" dy="21.3">题、新的矛盾。保护森林资源，制止乱砍滥伐</tspan><tspan x="1782" dy="21.3">，乱捕滥猎的任务日趋繁重，林区违法犯罪也</tspan><tspan x="1782" dy="21.3">出现了作案团伙化，工具现代化，手段智能化</tspan><tspan x="1782" dy="21.3">的新特点;此外，森林防火的任务也是重上加</tspan><tspan x="1782" dy="21.3">重。如何适应新形势下森林公安工作的需要，</tspan><tspan x="1782" dy="21.3">已成为森林公安基层基础工作改革的重要课题</tspan><tspan x="1782" dy="21.3">。作为所长，要大胆改革，锐意创新，狠抓打</tspan><tspan x="1782" dy="21.3">击违法犯罪，发挥派出所的尖兵作用;抓治安</tspan><tspan x="1782" dy="21.3">管理，发挥派出所的服务作用;抓安全防范，</tspan><tspan x="1782" dy="21.3">发挥派出所的监督作用;抓为警清廉，发挥派</tspan><tspan x="1782" dy="21.3">出所的"窗口"作用。这些作用的变化，越来越</tspan><tspan x="1782" dy="21.3">要求所长领导工作的科学化。</tspan></text></g>
<g id="r6" class="nr"><rect x="1773" y="3194" width="343" height="162.1" rx="8"/><text class="t" x="1782" y="3217.5"><tspan x="1782">派出所所长是一个所的主要负责人，要坚持从</tspan><tspan x="1782" dy="21.3">严治警的方针，对全所民警要大胆管理，严格</tspan><tspan x="1782" dy="21.3">管理;只有这样，才能带出一支好队伍。抓好</tspan><tspan x="1782" dy="21.3">队伍的管理，一个重要的问题就是落实责任制</tspan><tspan x="1782" dy="21.3">，严格考核制度，赏罚分明，克服干好干坏一</tspan><tspan x="1782" dy="21.3">个样的弊端。对队伍中暴露出来的不良倾向，</tspan><tspan x="1782" dy="21.3">要早抓、真抓、主动抓。</tspan></text></g>

<g id="o1" class="no"><rect x="1773" y="3392" width="147" height="36" rx="8"/><text class="t" x="1782" y="3416.5">诵读仿写上：李想</text></g>
<g id="o2" class="no"><rect x="1773" y="3466" width="343" height="55.6" rx="8"/><text class="t" x="1782" y="3489.5"><tspan x="1782">冬天来了冷空气再随风飘来，可警察叔叔还在</tspan><tspan x="1782" dy="21.3">外面不停地巡逻着。</tspan></text></g>
<g id="o3" class="no"><rect x="1773" y="3559" width="343" height="55.6" rx="8"/><text class="t" x="1782" y="3582.5"><tspan x="1782">社会里，遇到小偷抢劫，他会拼尽全力去捉住</tspan><tspan x="1782" dy="21.3">它，送进派出所，让小偷得到应有的惩罚。</tspan></text></g>
<g id="o4" class="no"><rect x="1773" y="3652" width="343" height="55.6" rx="8"/><text class="t" x="1782" y="3675.5"><tspan x="1782">在家里，遇到_你们报了警，警察叔叔会立马</tspan><tspan x="1782" dy="21.3">来，把他们送去派出所，让_坐牢。</tspan></text></g>
<g id="o5" class="no"><rect x="1773" y="3746" width="343" height="76.9" rx="8"/><text class="t" x="1782" y="3769.5"><tspan x="1782">平常，就是再小的事儿，但对他来说就是一件</tspan><tspan x="1782" dy="21.3">大事，他工作时我们跟他打招呼，他不理会，</tspan><tspan x="1782" dy="21.3">是因为他无视我们吗还是，这个很重要？</tspan></text></g>
<g id="o6" class="no"><rect x="1773" y="3860" width="343" height="76.9" rx="8"/><text class="t" x="1782" y="3883.5"><tspan x="1782">不管怎么样，我们都要对警察叔叔说一声，"</tspan><tspan x="1782" dy="21.3">谢谢你们，警察叔叔，是你们保护了我们大家</tspan><tspan x="1782" dy="21.3">谢谢！"</tspan></text></g>
<g id="o7" class="no"><rect x="1773" y="3974" width="147" height="36" rx="8"/><text class="t" x="1782" y="3998.5">指导老师：刘晓蓉</text></g>

<g id="y1" class="ny"><rect x="1773" y="4048" width="343" height="226" rx="8"/><text class="t" x="1782" y="4071.5"><tspan x="1782">按照学院教务处关于开展__________毕业实习</tspan><tspan x="1782" dy="21.3">的统一部署，_____班每个学生均_____单位进行</tspan><tspan x="1782" dy="21.3">为期一个半月的实习。20__年_月5日，本人</tspan><tspan x="1782" dy="21.3">到柘荣县公安局报到后，被安排到城关派出所</tspan><tspan x="1782" dy="21.3">实习。______常住人口_____人，共设有____个派出</tspan><tspan x="1782" dy="21.3">所，其中城关派出所是行政一级所，其查处的</tspan><tspan x="1782" dy="21.3">案件数占全县派出所合计查处案件的80%左</tspan><tspan x="1782" dy="21.3">右，日常工作较为繁杂实习的日子里我受益匪</tspan><tspan x="1782" dy="21.3">浅，收获到许多在学校不曾有过的体会，主要</tspan><tspan x="1782" dy="21.3">有以下几点：</tspan></text></g>
<g id="y2" class="ny"><rect x="1773" y="4624.2" width="312" height="55.6" rx="8"/><text class="t" x="1782" y="4647.7"><tspan x="1782">一、在生活中工作，在工作中生活，甘于</tspan><tspan x="1782" dy="21.3">平凡，甘于奉献。</tspan></text></g>
<g id="y3" class="ny"><rect x="2146" y="4305" width="343" height="694.6" rx="8"/><text class="t" x="2155" y="4328.5"><tspan x="2155">派出所是一个基层公安机关，平时与老百姓打</tspan><tspan x="2155" dy="21.3">交道较多，接触的也大多是普通人民群众。平</tspan><tspan x="2155" dy="21.3">时在影视剧中看得做多的关于警察的作品就是</tspan><tspan x="2155" dy="21.3">警匪剧，剧中警察的英勇与神谋使我们佩服</tspan><tspan x="2155" dy="21.3">得五体投地，包括我在内的许多人在没有真正</tspan><tspan x="2155" dy="21.3">接触警察工作时还认为神秘非常。然而当我</tspan><tspan x="2155" dy="21.3">成为实习民警，真正接手具体事务工作后，才</tspan><tspan x="2155" dy="21.3">发现影视剧的描述只是福尔摩斯式的理想化，</tspan><tspan x="2155" dy="21.3">警察工作真的很累。用一句话概括就是：平</tspan><tspan x="2155" dy="21.3">凡的人平凡的一天。在派出所，白天除了正</tspan><tspan x="2155" dy="21.3">常的上班工 作，还得跑社区，下基层了解</tspan><tspan x="2155" dy="21.3">群众生活动态，要接待普通人民群众的来访，</tspan><tspan x="2155" dy="21.3">对矛盾纠纷进行调解，对违法犯罪展开调查 取</tspan><tspan x="2155" dy="21.3">证等工作。夜深人静的时候，我们还得出去</tspan><tspan x="2155" dy="21.3">巡逻防范，对辖区范围内的每一个角落都不能</tspan><tspan x="2155" dy="21.3">放过。每当在别人睡觉我们还在巡逻的时候，</tspan><tspan x="2155" dy="21.3">我明白了歌曲里为什么把人民警察说成人民的</tspan><tspan x="2155" dy="21.3">卫士，我明白了确保一方安宁不只是口号而是</tspan><tspan x="2155" dy="21.3">要用行动。在开发区派出所，许多民警因为</tspan><tspan x="2155" dy="21.3">工作繁忙放弃了休假，始终坚持在工作的</tspan><tspan x="2155" dy="21.3">岗位上。无论在什么时候，他们对待工作的热</tspan><tspan x="2155" dy="21.3">情都是高涨而饱满的，对待人民群众也是文明</tspan><tspan x="2155" dy="21.3">礼貌的，这使我一直以来对警察粗暴无礼的印</tspan><tspan x="2155" dy="21.3">象彻底改观，在生活中工作，在工作中生活，</tspan><tspan x="2155" dy="21.3">这就是公安工作人员的真实写照。我想一个人</tspan><tspan x="2155" dy="21.3">若有了信仰有时并不要求个人对工作与生活做</tspan><tspan x="2155" dy="21.3">出严格区分，正如快乐与痛苦只是个人的意念</tspan><tspan x="2155" dy="21.3">而已。而作为一名实习生，我尽量迎合这种</tspan><tspan x="2155" dy="21.3">工作的节奏与方式，积极协助派出所里面的民</tspan><tspan x="2155" dy="21.3">警处理事务，做好人，做好事，做好本职工作</tspan><tspan x="2155" dy="21.3">，甘于平凡，甘于奉献，这是我实习的第一收</tspan><tspan x="2155" dy="21.3">获，非为实习而单纯的实习。</tspan></text></g>
<g id="y4" class="ny"><rect x="1773" y="5439.5" width="272" height="37" rx="8"/><text class="t" x="1782" y="5464">二、理论联系实际，在实践中学习。</text></g>
<g id="y5" class="ny"><rect x="2065" y="5030" width="343" height="460.3" rx="8"/><text class="t" x="2074" y="5053.5"><tspan x="2074">理论联系实际，在实践中学习。经过政法干</tspan><tspan x="2074" dy="21.3">警考试后，我满怀信心，在刚踏上实习岗位时</tspan><tspan x="2074" dy="21.3">可谓踌躇满志，满怀抱负的雄心勃勃。然而，</tspan><tspan x="2074" dy="21.3">第一次独立接手的案件，彻底破灭了我这眼高</tspan><tspan x="2074" dy="21.3">手低的自负想法，做一份简单的盗窃案笔录，</tspan><tspan x="2074" dy="21.3">竟在带班民警师傅的耐心帮助下方告完成</tspan><tspan x="2074" dy="21.3">，这让我深刻认识到自己掌握的仅仅是一些</tspan><tspan x="2074" dy="21.3">书本理论知识，办案需要生活的积累和询问</tspan><tspan x="2074" dy="21.3">技巧，初时笔录做得断断续续，不知道该怎</tspan><tspan x="2074" dy="21.3">么问下去。这让我真正认识到警察工作是一</tspan><tspan x="2074" dy="21.3">项对实践性要求很高的工作，它要求不断</tspan><tspan x="2074" dy="21.3">积累和丰富自己的知识。因此，在此后的实</tspan><tspan x="2074" dy="21.3">习过程中，我一边重温学过的课程，一边</tspan><tspan x="2074" dy="21.3">研究案件的证据结构，在办案的同时积极</tspan><tspan x="2074" dy="21.3">思考法律条文的规定与法理要求，发挥</tspan><tspan x="2074" dy="21.3">在学校所学到的法学理论，运用于实践中去</tspan><tspan x="2074" dy="21.3">。同时，虚心向民警学习，从与他们的交谈中</tspan><tspan x="2074" dy="21.3">学到了大量的法律知识、办案思路、询问技</tspan><tspan x="2074" dy="21.3">巧、制作笔录的技术等，这些都是书本上</tspan><tspan x="2074" dy="21.3">学不到的宝贵知识，从而全面提高了自身的</tspan><tspan x="2074" dy="21.3">综合素质。</tspan></text></g>
<g id="y7" class="ny"><rect x="2065" y="5524" width="343" height="268.6" rx="8"/><text class="t" x="2074" y="5547.5"><tspan x="2074">这次在城关派出所实习虽然只有一个多月的时</tspan><tspan x="2074" dy="21.3">间，但我严格按照实习大纲的规定，顺利完</tspan><tspan x="2074" dy="21.3">成了各项实习任务和调研报告，这段不长的</tspan><tspan x="2074" dy="21.3">实习经历必将对我今后的学习、工作产生重</tspan><tspan x="2074" dy="21.3">要影响。它使我了解了自己在大学毕业以后将</tspan><tspan x="2074" dy="21.3">要面对的是什么样的工作岗位上和我所将可能</tspan><tspan x="2074" dy="21.3">从事工作的基本状况大概是个什么情况，也为</tspan><tspan x="2074" dy="21.3">我今后的学习指明了方向，可以比较有重点的</tspan><tspan x="2074" dy="21.3">来进行学习，提高自己的综合素质。希望这</tspan><tspan x="2074" dy="21.3">次实习能够成为我以后从警的一个良好开端，</tspan><tspan x="2074" dy="21.3">并在今后的工作中能够更进一步，取得更加骄</tspan><tspan x="2074" dy="21.3">人的成绩。</tspan></text></g>
</g>
</svg>
